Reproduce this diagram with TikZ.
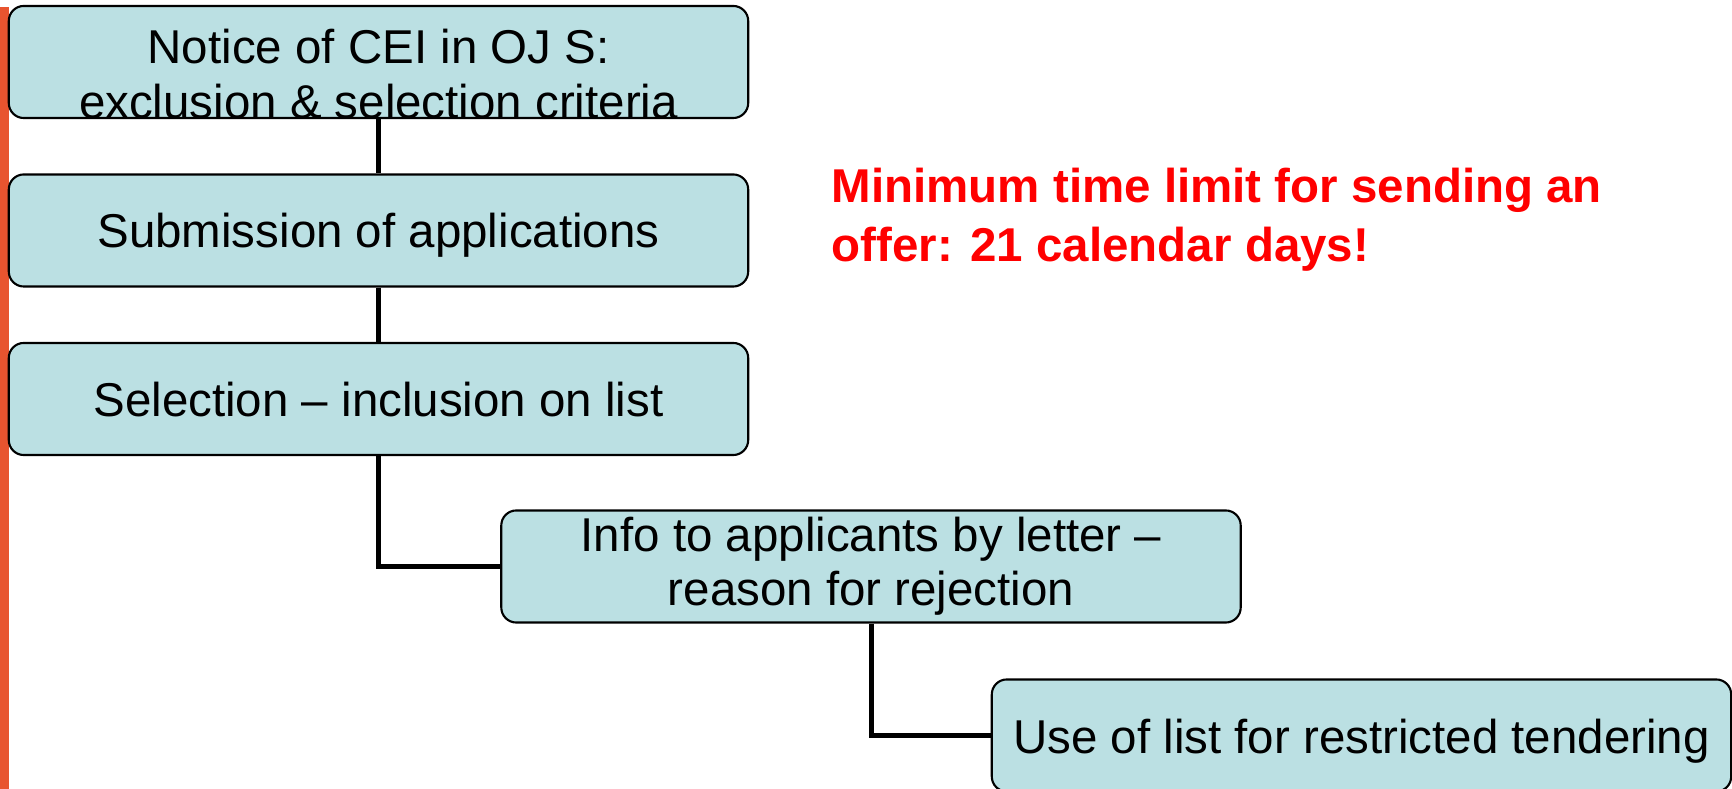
\documentclass[tikz,border=0pt]{standalone}
\usepackage{fontspec}
\setmainfont{Liberation Sans}
\definecolor{boxfill}{HTML}{BBE0E3}
\definecolor{barorange}{HTML}{E8542F}

\begin{document}
\begin{tikzpicture}[x=0.01cm,y=-0.01cm]
		\useasboundingbox (0,0) rectangle (1732,789);
		\fill[barorange] (0,7) rectangle (9,789);
		\begin{scope}[every node/.style={draw=black,line width=0.6pt,fill=boxfill,
			rounded corners=0.15cm,minimum width=7.39cm,minimum height=1.12cm,
			inner sep=0pt,align=center,font=\fontsize{13.5pt}{15.4pt}\selectfont},
			oneline/.style={text height=0.35cm,text depth=0pt}]
			\node (notice) at (378.5,62) {};
			\node[oneline] (submit) at (378.5,230.5) {Submission of applications};
			\node[oneline] (select) at (378.5,399) {Selection -- inclusion on list};
			\node (inform) at (871,566.5) {Info to applicants by letter --\\reason for rejection};
			\node[oneline] (reuse) at (1361.5,735.5) {Use of list for restricted tendering};
		\end{scope}
		\node[align=center,inner sep=0pt,font=\fontsize{13.5pt}{15.4pt}\selectfont]
			(noticetext) at ([yshift=-0.12cm]notice.center)
			{Notice of CEI in OJ S:\\exclusion \& selection criteria};
		\begin{scope}[every path/.style={draw=black,line width=0.05cm}]
			\path (notice) -- (submit);
			\path (submit) -- (select);
			\path (select.south) |- (inform.west);
			\path (inform.south) |- (reuse.west);
		\end{scope}
		\node[anchor=north west,inner sep=0pt,align=left,text=red,
			font=\fontsize{13.5pt}{16.8pt}\selectfont\bfseries]
			(limit) at (831,167) {Minimum time limit for sending an\\offer: 21 calendar days!};
	\end{tikzpicture}
\end{document}
